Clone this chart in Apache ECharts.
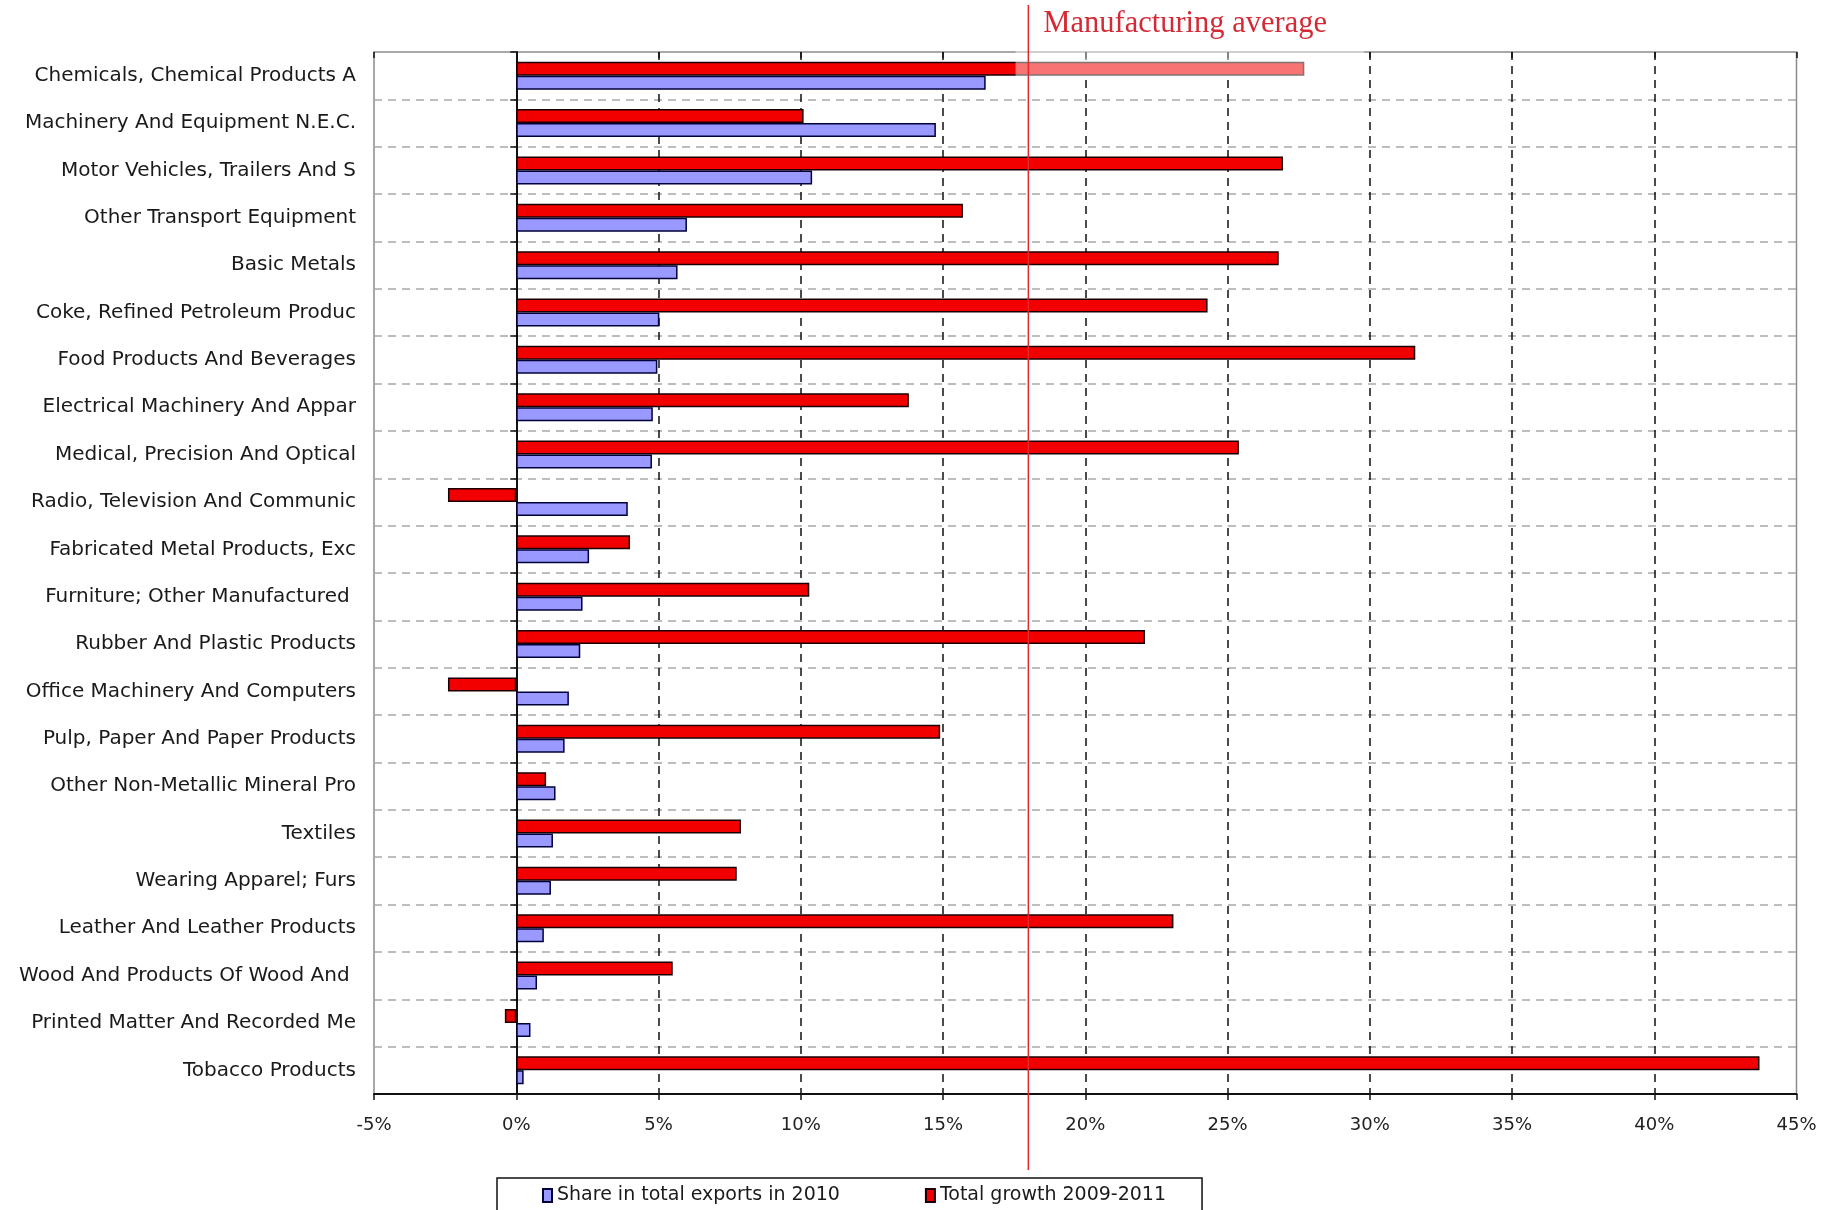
<!DOCTYPE html>
<html>
<head>
<meta charset="utf-8">
<script src="https://cdn.jsdelivr.net/npm/echarts@6/dist/echarts.min.js"></script>
<style>
html,body{margin:0;padding:0;background:#fff;}
#c{width:1825px;height:1210px;}
</style>
</head>
<body>
<div id="c"></div>
<script>
// ---- data ----
const categories = [
  "Chemicals, Chemical Products A",
  "Machinery And Equipment N.E.C.",
  "Motor Vehicles, Trailers And S",
  "Other Transport Equipment",
  "Basic Metals",
  "Coke, Refined Petroleum Produc",
  "Food Products And Beverages",
  "Electrical Machinery And Appar",
  "Medical, Precision And Optical",
  "Radio, Television And Communic",
  "Fabricated Metal Products, Exc",
  "Furniture; Other Manufactured ",
  "Rubber And Plastic Products",
  "Office Machinery And Computers",
  "Pulp, Paper And Paper Products",
  "Other Non-Metallic Mineral Pro",
  "Textiles",
  "Wearing Apparel; Furs",
  "Leather And Leather Products",
  "Wood And Products Of Wood And ",
  "Printed Matter And Recorded Me",
  "Tobacco Products"
];
const shareIn2010 = [16.5, 14.75, 10.4, 6.0, 5.67, 5.03, 4.96, 4.8, 4.77, 3.92, 2.56,
                     2.33, 2.25, 1.85, 1.70, 1.38, 1.29, 1.22, 0.97, 0.73, 0.50, 0.26];
const growth2009to2011 = [27.7, 10.1, 26.95, 15.7, 26.8, 24.3, 31.6, 13.8, 25.4, -2.4, 4.0,
                          10.3, 22.1, -2.4, 14.9, 1.05, 7.9, 7.75, 23.1, 5.5, -0.4, 43.7];
const seriesNames = ["Share in total exports in 2010", "Total growth 2009-2011"];
const xMin = -5, xMax = 45, xStep = 5;          // tick labels: -5% ... 45%
const manufacturingAverage = 18;
const averageLabel = "Manufacturing average";

// ---- chart ----
const chart = echarts.init(document.getElementById('c'), null, {renderer: 'canvas'});
const labelFont = 'DejaVu Sans';
const option = {
  animation: false,
  backgroundColor: '#ffffff',
  textStyle: {fontFamily: labelFont},
  grid: {left: 374, right: 28.5, top: 52, bottom: 116, show: true,
         borderColor: '#8c8c8c', borderWidth: 1.5, backgroundColor: 'transparent'},
  legend: {
    data: seriesNames, left: 497, top: 1178, orient: 'horizontal',
    icon: 'rect', itemWidth: 9, itemHeight: 13, itemGap: 85,
    padding: [8, 36, 30, 45], borderColor: '#111', borderWidth: 1.5,
    selectedMode: false,
    textStyle: {fontSize: 19, color: '#1a1a1a', fontFamily: labelFont}
  },
  xAxis: [
    {type: 'value', min: xMin, max: xMax, interval: xStep, position: 'bottom',
     axisLine: {show: true, onZero: false, lineStyle: {color: '#111', width: 2}},
     axisTick: {show: true, length: 6, lineStyle: {color: '#111', width: 1.5}},
     axisLabel: {formatter: v => v + '%', margin: 22, fontSize: 18, color: '#222', fontFamily: labelFont},
     splitLine: {show: true, showMinLine: false, showMaxLine: false,
                 lineStyle: {color: '#111', width: 1.5, type: [8, 6]}}},
    {type: 'value', min: xMin, max: xMax, interval: xStep, position: 'top',
     axisLine: {show: false}, axisTick: {show: true, inside: true, length: 6, lineStyle: {color: '#111', width: 1.5}},
     axisLabel: {show: false}, splitLine: {show: false}}
  ],
  yAxis: [
    {type: 'category', data: categories, inverse: true, position: 'left',
     axisLine: {show: false, onZero: false}, axisTick: {show: false},
     axisLabel: {margin: 18, fontSize: 20, color: '#1a1a1a', fontFamily: labelFont},
     splitLine: {show: true, lineStyle: {color: '#a8a8a8', width: 1.5, type: [8, 6]}}},
    {type: 'category', data: categories, inverse: true, position: 'left',
     axisLine: {show: true, onZero: true, lineStyle: {color: '#111', width: 2}},
     axisTick: {show: true, length: 6, lineStyle: {color: '#111', width: 1.5}},
     axisLabel: {show: false}, splitLine: {show: false}}
  ],
  series: [
    {name: seriesNames[1], type: 'bar', xAxisIndex: 0, yAxisIndex: 0, data: growth2009to2011,
     barWidth: 14, barGap: '0%', z: 3,
     itemStyle: {color: '#f20000', borderColor: '#1a0000', borderWidth: 1.5}},
    {name: seriesNames[0], type: 'bar', xAxisIndex: 0, yAxisIndex: 0, data: shareIn2010,
     barWidth: 14, barGap: '0%', z: 3,
     itemStyle: {color: '#9999ff', borderColor: '#00003a', borderWidth: 1.5}}
  ]
};
chart.setOption(option);

const xAvg = chart.convertToPixel({xAxisIndex: 0}, manufacturingAverage);
const xBoxL = chart.convertToPixel({xAxisIndex: 0}, 17.55);
const xBoxR = chart.convertToPixel({xAxisIndex: 0}, 29.8);
const yCat0 = chart.convertToPixel({yAxisIndex: 0}, categories[0]);
chart.setOption({
  graphic: [
    {type: 'rect', silent: true, z: 50,
     shape: {x: xBoxL, y: 0, width: xBoxR - xBoxL, height: yCat0 + 2},
     style: {fill: 'rgba(255,255,255,0.45)'}},
    {type: 'line', silent: true, z: 60,
     shape: {x1: xAvg, y1: 5, x2: xAvg, y2: 1170},
     style: {stroke: '#e0282d', lineWidth: 1.5}},
    {type: 'text', silent: true, z: 60, x: xAvg + 15, y: 24,
     style: {text: averageLabel, fontSize: 30.5, fontFamily: 'Liberation Serif',
             fill: '#d42a35', align: 'left', verticalAlign: 'middle'}}
  ]
});
</script>
</body>
</html>
